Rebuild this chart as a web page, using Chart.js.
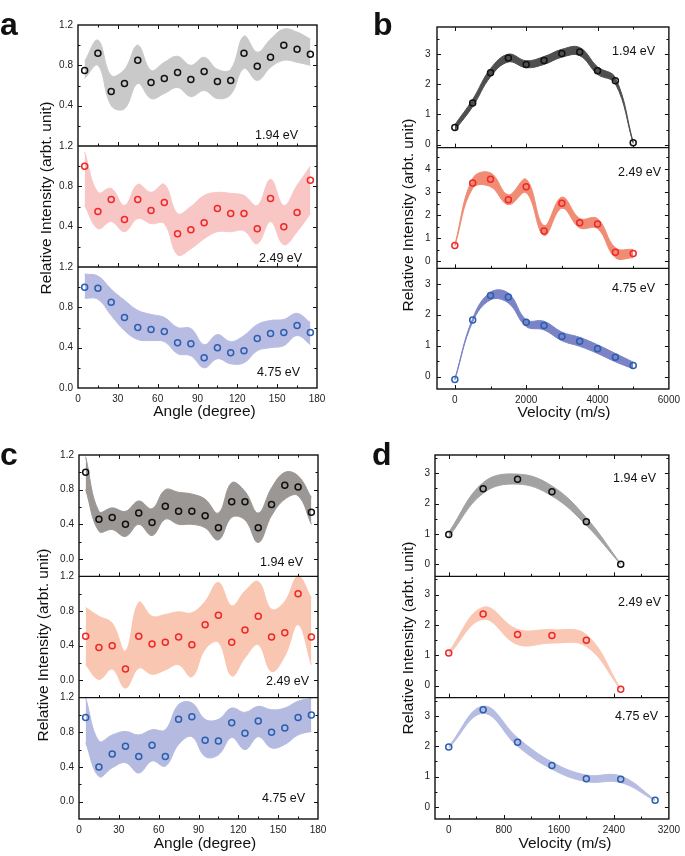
<!DOCTYPE html>
<html>
<head>
<meta charset="utf-8">
<script src="https://cdn.jsdelivr.net/npm/chart.js@4.4.1/dist/chart.umd.min.js"></script>
<style>
  body { margin: 0; width: 685px; height: 856px; position: relative; overflow: hidden; background: #fff;
         font-family: "Liberation Sans", Arial, sans-serif; color: #111; }
  canvas { position: absolute; }
  .txt { position: absolute; white-space: nowrap; line-height: 1; }
</style>
</head>
<body>
<script>
// angle-resolved panels (a, c)
const angles = [5, 15, 25, 35, 45, 55, 65, 75, 85, 95, 105, 115, 125, 135, 145, 155, 165, 175];

const a194   = [0.75, 0.92, 0.54, 0.62, 0.85, 0.63, 0.67, 0.73, 0.66, 0.74, 0.64, 0.65, 0.92, 0.79, 0.88, 1.00, 0.96, 0.91];
const a194Hi = [0.84, 1.05, 0.70, 0.76, 1.00, 0.75, 0.83, 0.89, 0.80, 0.88, 0.76, 0.76, 1.09, 0.93, 1.06, 1.16, 1.13, 1.06];
const a194Lo = [0.67, 0.80, 0.40, 0.37, 0.62, 0.47, 0.52, 0.58, 0.49, 0.55, 0.47, 0.51, 0.77, 0.65, 0.78, 0.85, 0.83, 0.80];

const a249   = [1.00, 0.55, 0.67, 0.47, 0.67, 0.56, 0.64, 0.33, 0.37, 0.44, 0.58, 0.53, 0.53, 0.38, 0.68, 0.40, 0.54, 0.86];
const a249Hi = [1.14, 0.74, 0.78, 0.61, 0.82, 0.74, 0.82, 0.53, 0.60, 0.71, 0.74, 0.73, 0.71, 0.61, 0.87, 0.61, 0.81, 1.00];
const a249Lo = [0.61, 0.38, 0.45, 0.35, 0.48, 0.43, 0.43, 0.12, 0.18, 0.28, 0.35, 0.35, 0.36, 0.23, 0.45, 0.22, 0.35, 0.53];

const a475   = [1.00, 0.99, 0.85, 0.70, 0.60, 0.58, 0.56, 0.45, 0.44, 0.30, 0.40, 0.35, 0.37, 0.49, 0.54, 0.55, 0.62, 0.55];
const a475Hi = [1.13, 1.11, 0.98, 0.87, 0.77, 0.73, 0.70, 0.60, 0.59, 0.43, 0.53, 0.46, 0.52, 0.63, 0.67, 0.68, 0.74, 0.65];
const a475Lo = [0.89, 0.88, 0.72, 0.57, 0.48, 0.47, 0.46, 0.34, 0.32, 0.20, 0.29, 0.24, 0.25, 0.37, 0.40, 0.42, 0.52, 0.43];

const c194   = [1.00, 0.46, 0.48, 0.40, 0.53, 0.42, 0.61, 0.55, 0.55, 0.50, 0.36, 0.66, 0.66, 0.36, 0.63, 0.85, 0.83, 0.54];
const c194Hi = [1.18, 0.55, 0.59, 0.55, 0.67, 0.58, 0.80, 0.77, 0.75, 0.69, 0.53, 0.88, 0.78, 0.53, 0.82, 1.00, 0.96, 0.71];
const c194Lo = [0.80, 0.32, 0.34, 0.26, 0.40, 0.27, 0.46, 0.40, 0.40, 0.36, 0.22, 0.48, 0.45, 0.19, 0.50, 0.69, 0.73, 0.40];

const c249   = [0.51, 0.38, 0.40, 0.13, 0.51, 0.42, 0.44, 0.50, 0.41, 0.64, 0.75, 0.44, 0.58, 0.74, 0.50, 0.55, 1.00, 0.50];
const c249Hi = [0.84, 0.74, 0.66, 0.34, 0.90, 0.74, 0.76, 0.79, 0.78, 0.91, 1.13, 0.86, 1.03, 1.14, 0.82, 0.91, 1.20, 0.95];
const c249Lo = [0.18, 0.01, 0.13, -0.09, 0.14, 0.07, 0.12, 0.18, 0.04, 0.36, 0.44, 0.05, 0.26, 0.41, 0.10, 0.28, 0.64, 0.18];

const c475   = [0.97, 0.40, 0.55, 0.64, 0.52, 0.65, 0.52, 0.95, 0.98, 0.71, 0.70, 0.91, 0.79, 0.93, 0.80, 0.85, 0.97, 1.00];
const c475Hi = [1.20, 0.70, 0.77, 0.81, 0.77, 0.83, 0.83, 1.12, 1.14, 0.95, 0.95, 1.08, 1.03, 1.10, 1.06, 1.08, 1.16, 1.19];
const c475Lo = [0.68, 0.29, 0.39, 0.45, 0.33, 0.47, 0.41, 0.66, 0.75, 0.52, 0.54, 0.74, 0.60, 0.75, 0.62, 0.66, 0.77, 0.81];

// velocity panels (b, d)
const velB = [0, 500, 1000, 1500, 2000, 2500, 3000, 3500, 4000, 4500, 5000];

const b194   = [0.57, 1.38, 2.38, 2.87, 2.66, 2.79, 3.02, 3.07, 2.45, 2.12, 0.06];
const b194Hi = [0.66, 1.50, 2.52, 3.00, 2.78, 2.92, 3.16, 3.22, 2.58, 2.22, 0.08];
const b194Lo = [0.48, 1.26, 2.25, 2.74, 2.55, 2.66, 2.90, 2.95, 2.33, 2.02, 0.04];

const b249   = [0.69, 3.39, 3.55, 2.67, 3.23, 1.32, 2.52, 1.67, 1.62, 0.40, 0.34];
const b249Hi = [0.72, 3.59, 3.83, 2.88, 3.55, 1.55, 2.78, 1.86, 1.85, 0.59, 0.52];
const b249Lo = [0.66, 3.16, 3.23, 2.45, 2.97, 1.12, 2.30, 1.45, 1.42, 0.16, 0.16];

const b475   = [-0.09, 1.83, 2.62, 2.57, 1.76, 1.65, 1.30, 1.14, 0.90, 0.63, 0.36];
const b475Hi = [-0.07, 1.88, 2.73, 2.70, 1.84, 1.79, 1.44, 1.27, 1.03, 0.75, 0.47];
const b475Lo = [-0.11, 1.77, 2.48, 2.38, 1.62, 1.51, 1.16, 0.98, 0.75, 0.48, 0.25];

const velD  = [0, 500, 1000, 1500, 2000, 2500];
const velD3 = [0, 500, 1000, 1500, 2000, 2500, 3000];

const d194   = [0.98, 2.49, 2.80, 2.39, 1.40, 0.00];
const d194Hi = [1.05, 2.69, 2.97, 2.58, 1.53, 0.01];
const d194Lo = [0.90, 2.34, 2.64, 2.25, 1.28, -0.01];

const d249   = [1.07, 2.36, 1.68, 1.65, 1.49, -0.12];
const d249Hi = [1.12, 2.58, 1.85, 1.84, 1.68, -0.11];
const d249Lo = [1.02, 2.18, 1.35, 1.40, 1.29, -0.13];

const d475   = [1.97, 3.20, 2.13, 1.36, 0.93, 0.91, 0.22];
const d475Hi = [2.00, 3.32, 2.28, 1.48, 1.05, 1.02, 0.24];
const d475Lo = [1.94, 3.08, 2.00, 1.24, 0.83, 0.80, 0.20];

const angleTicks = [0, 30, 60, 90, 120, 150, 180];
const velBTicks  = [0, 2000, 4000, 6000];
const velDTicks  = [0, 800, 1600, 2400, 3200];

const BLACK = '#111111', RED = '#f02828', BLUE = '#2b5fb0';
const YW = 30, XH = 20;
const tickFont = { family: 'Liberation Sans', size: 10 };

function stepVals(min, max, step) {
  const out = [];
  for (let k = Math.ceil(min / step - 1e-9); k * step <= max + 1e-9; k++) out.push(+(k * step).toFixed(6));
  return out;
}
const isMajor = (v, major) => Math.abs(v / major - Math.round(v / major)) < 1e-6;

function bandSets(xs, mid, hi, lo, band, edge, axis) {
  const pts = arr => xs.map((x, i) => ({ x, y: arr[i] }));
  return [
    { data: pts(mid), yAxisID: axis, showLine: false, order: 0,
      pointRadius: 3, pointBorderWidth: 1.5, pointBorderColor: edge, pointBackgroundColor: 'rgba(0,0,0,0)' },
    { data: pts(hi), yAxisID: axis, fill: '+1', backgroundColor: band, borderColor: band,
      borderWidth: 1, pointRadius: 0, tension: 0.4, order: 1 },
    { data: pts(lo), yAxisID: axis, fill: false, borderColor: band,
      borderWidth: 1, pointRadius: 0, tension: 0.4, order: 1 }
  ];
}

function makePanel(cfg) {
  const [bx, by, bw, bh] = cfg.box;
  const cv = document.createElement('canvas');
  cv.width = bw; cv.height = bh;
  cv.style.left = bx + 'px'; cv.style.top = by + 'px';
  document.body.appendChild(cv);

  const scales = {
    x: {
      type: 'linear', position: 'bottom', min: cfg.xMin, max: cfg.xMax,
      grid: { display: false, drawTicks: false }, border: { display: false },
      ticks: { font: tickFont, color: '#222', padding: 5, autoSkip: false, maxRotation: 0, callback: v => String(v) },
      afterBuildTicks: ax => { ax.ticks = cfg.xLabels.map(v => ({ value: v })); },
      afterFit: s => { s.height = XH; }
    }
  };
  cfg.subs.forEach((s, i) => {
    scales['y' + i] = {
      type: 'linear', position: 'left', stack: 'p', stackWeight: 1, weight: 3 - i,
      min: s.yMin, max: s.yMax,
      grid: { display: false, drawTicks: false }, border: { display: false },
      ticks: { font: tickFont, color: '#222', padding: cfg.yPad, autoSkip: false, callback: v => cfg.yFmt(v) },
      afterBuildTicks: ax => { ax.ticks = s.labels.map(v => ({ value: v })); },
      afterFit: sc => { sc.width = YW; }
    };
  });

  const datasets = cfg.subs.flatMap((s, i) => bandSets(s.xs, s.mid, s.hi, s.lo, s.band, s.edge, 'y' + i));

  const frameTicks = {
    id: 'frameTicks',
    afterDatasetsDraw(chart) {
      const { ctx, chartArea: ca } = chart;
      const xs = chart.scales.x;
      ctx.save();
      ctx.strokeStyle = '#111';
      ctx.lineWidth = 1;
      ctx.beginPath();
      cfg.subs.forEach((s, i) => {
        const ys = chart.scales['y' + i];
        stepVals(s.yMin, s.yMax, cfg.yMinor).forEach(v => {
          const py = Math.round(ys.getPixelForValue(v)) + 0.5;
          if (py <= ys.top + 1 || py >= ys.bottom - 1) return;
          const len = isMajor(v, cfg.yMajor) ? 4 : 2.5;
          ctx.moveTo(ca.left, py); ctx.lineTo(ca.left + len, py);
          ctx.moveTo(ca.right, py); ctx.lineTo(ca.right - len, py);
        });
        stepVals(cfg.xMin, cfg.xMax, cfg.xMinor).forEach(v => {
          const px = Math.round(xs.getPixelForValue(v)) + 0.5;
          if (px <= ca.left + 1 || px >= ca.right - 1) return;
          const len = isMajor(v, cfg.xMajor) ? 4 : 2.5;
          ctx.moveTo(px, ys.bottom); ctx.lineTo(px, ys.bottom - len);
          if (i === 0) { ctx.moveTo(px, ys.top); ctx.lineTo(px, ys.top + len); }
        });
      });
      ctx.stroke();
      ctx.lineWidth = 1.4;
      ctx.strokeRect(ca.left, ca.top, ca.right - ca.left, ca.bottom - ca.top);
      ctx.beginPath();
      cfg.subs.slice(0, -1).forEach((s, i) => {
        const yb = chart.scales['y' + i].bottom;
        ctx.moveTo(ca.left, yb); ctx.lineTo(ca.right, yb);
      });
      ctx.stroke();
      ctx.restore();
    }
  };

  new Chart(cv, {
    type: 'line',
    data: { datasets },
    options: {
      responsive: false, animation: false, events: [], devicePixelRatio: 1,
      layout: {
        autoPadding: false,
        padding: {
          left: cfg.area.l - bx - YW, top: cfg.area.t - by,
          right: bx + bw - cfg.area.r, bottom: by + bh - cfg.area.b - XH
        }
      },
      plugins: { legend: { display: false }, tooltip: { enabled: false } },
      scales
    },
    plugins: [frameTicks]
  });
}

function text(str, x, base, size, opt = {}) {
  const d = document.createElement('div');
  d.className = 'txt';
  d.textContent = str;
  d.style.fontSize = size + 'px';
  if (opt.bold) d.style.fontWeight = 'bold';
  if (opt.rotate) {
    d.style.left = x + 'px'; d.style.top = base + 'px';
    d.style.transform = 'translate(-50%,-50%) rotate(-90deg)';
  } else {
    d.style.left = x + 'px';
    d.style.top = (base - 0.8465 * size) + 'px';
    if (opt.center) d.style.transform = 'translateX(-50%)';
  }
  document.body.appendChild(d);
}

const angleFmt = v => v.toFixed(1);
const velFmt = v => String(v);

makePanel({
  box: [0, 0, 342, 428], area: { l: 78, r: 317, t: 25, b: 388 },
  xMin: 0, xMax: 180, xLabels: angleTicks, xMajor: 30, xMinor: 15,
  yMajor: 0.4, yMinor: 0.2, yPad: 5, yFmt: angleFmt,
  subs: [
    { xs: angles, mid: a194, hi: a194Hi, lo: a194Lo, band: '#c9c9c9', edge: BLACK, yMin: 0, yMax: 1.2, labels: [0.4, 0.8, 1.2] },
    { xs: angles, mid: a249, hi: a249Hi, lo: a249Lo, band: '#f9c6c6', edge: RED, yMin: 0, yMax: 1.2, labels: [0.4, 0.8, 1.2] },
    { xs: angles, mid: a475, hi: a475Hi, lo: a475Lo, band: '#b8bce2', edge: BLUE, yMin: 0, yMax: 1.2, labels: [0, 0.4, 0.8, 1.2] }
  ]
});

makePanel({
  box: [342, 0, 343, 428], area: { l: 437, r: 672, t: 27, b: 389 },
  xMin: -500, xMax: 6000, xLabels: velBTicks, xMajor: 2000, xMinor: 1000,
  yMajor: 1, yMinor: 0.5, yPad: 6.5, yFmt: velFmt,
  subs: [
    { xs: velB, mid: b194, hi: b194Hi, lo: b194Lo, band: '#4f4f4f', edge: BLACK, yMin: -0.1, yMax: 3.9, labels: [0, 1, 2, 3] },
    { xs: velB, mid: b249, hi: b249Hi, lo: b249Lo, band: '#f18c74', edge: RED, yMin: -0.3, yMax: 4.92, labels: [0, 1, 2, 3, 4] },
    { xs: velB, mid: b475, hi: b475Hi, lo: b475Lo, band: '#7b83c7', edge: BLUE, yMin: -0.4, yMax: 3.5, labels: [0, 1, 2, 3] }
  ]
});

makePanel({
  box: [0, 428, 342, 428], area: { l: 79, r: 318, t: 455, b: 819 },
  xMin: 0, xMax: 180, xLabels: angleTicks, xMajor: 30, xMinor: 15,
  yMajor: 0.4, yMinor: 0.2, yPad: 5, yFmt: angleFmt,
  subs: [
    { xs: angles, mid: c194, hi: c194Hi, lo: c194Lo, band: '#9b9795', edge: BLACK, yMin: -0.2, yMax: 1.2, labels: [0, 0.4, 0.8, 1.2] },
    { xs: angles, mid: c249, hi: c249Hi, lo: c249Lo, band: '#f9c6b1', edge: RED, yMin: -0.2, yMax: 1.2, labels: [0, 0.4, 0.8, 1.2] },
    { xs: angles, mid: c475, hi: c475Hi, lo: c475Lo, band: '#b5bae1', edge: BLUE, yMin: -0.2, yMax: 1.2, labels: [0, 0.4, 0.8, 1.2] }
  ]
});

makePanel({
  box: [342, 428, 343, 428], area: { l: 435, r: 673, t: 455, b: 819 },
  xMin: -200, xMax: 3200, xLabels: velDTicks, xMajor: 800, xMinor: 400,
  yMajor: 1, yMinor: 0.5, yPad: 5, yFmt: velFmt,
  subs: [
    { xs: velD, mid: d194, hi: d194Hi, lo: d194Lo, band: '#a2a2a2', edge: BLACK, yMin: -0.4, yMax: 3.6, labels: [0, 1, 2, 3] },
    { xs: velD, mid: d249, hi: d249Hi, lo: d249Lo, band: '#f9c7b3', edge: RED, yMin: -0.4, yMax: 3.6, labels: [0, 1, 2, 3] },
    { xs: velD3, mid: d475, hi: d475Hi, lo: d475Lo, band: '#b7bce2', edge: BLUE, yMin: -0.4, yMax: 3.6, labels: [0, 1, 2, 3] }
  ]
});

// panel letters
text('a', 0, 35, 32, { bold: true });
text('b', 373, 35, 32, { bold: true });
text('c', 0, 465, 32, { bold: true });
text('d', 372, 465, 32, { bold: true });

// energy labels
[['1.94 eV', 255, 140], ['2.49 eV', 259, 263], ['4.75 eV', 257, 376.5],
 ['1.94 eV', 612, 55.7], ['2.49 eV', 618, 177], ['4.75 eV', 612, 292.5],
 ['1.94 eV', 260, 566.5], ['2.49 eV', 266, 685.5], ['4.75 eV', 262, 803],
 ['1.94 eV', 613, 483], ['2.49 eV', 618, 606.5], ['4.75 eV', 615, 720.5]
].forEach(([s, x, y]) => text(s, x, y, 12.5));

// axis titles
const yTitle = 'Relative Intensity (arbt. unit)';
text(yTitle, 45.5, 198, 15.5, { rotate: true });
text(yTitle, 407.5, 215, 15.5, { rotate: true });
text(yTitle, 43, 645, 15.5, { rotate: true });
text(yTitle, 407.5, 638, 15.5, { rotate: true });
text('Angle (degree)', 204.5, 416, 15.5, { center: true });
text('Velocity (m/s)', 564, 417, 15.5, { center: true });
text('Angle (degree)', 205, 848, 15.5, { center: true });
text('Velocity (m/s)', 565, 848, 15.5, { center: true });
</script>
</body>
</html>
